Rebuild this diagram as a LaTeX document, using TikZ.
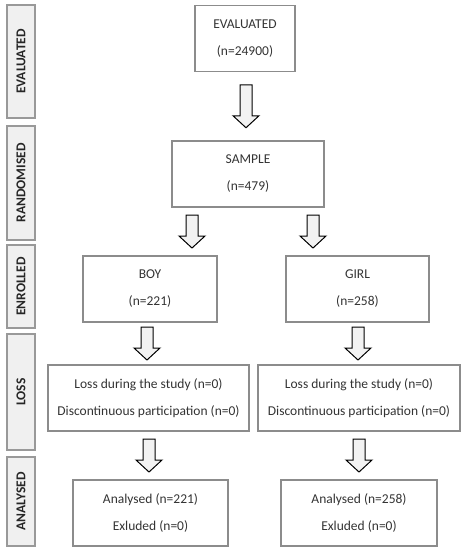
\documentclass[tikz,border=0pt]{standalone}
\usepackage{fontspec}
\setmainfont{Carlito}
\usetikzlibrary{calc}

\tikzset{
  box/.style={draw=black!45, line width=1.3pt, minimum height=66pt, align=center,
    text=black!80, font=\fontsize{13.5}{27}\selectfont, inner sep=0pt},
  sidebox/.style={draw=black!40, fill=black!6, line width=1.2pt, minimum width=28pt,
    inner sep=0pt, text=black!85, font=\fontsize{13.5}{14}\selectfont\bfseries},
  hollowarrow/.style={draw=black, fill=black!5, line width=1pt, line join=miter}
}

% #1 length, #2 x position, #3 upper box, #4 lower box
\newcommand{\blockarrow}[4][33]{%
  \draw[hollowarrow] let \p1=(#3.south), \p2=(#4.north), \n1={(\y1+\y2)/2} in
    ({(#2-6)*1pt},{\n1*1pt+#1*0.5pt}) -- ({(#2+6)*1pt},{\n1*1pt+#1*0.5pt})
    -- ({(#2+6)*1pt},{\n1*1pt-#1*0.5pt+12pt}) -- ({(#2+13)*1pt},{\n1*1pt-#1*0.5pt+12pt})
    -- ({#2*1pt},{\n1*1pt-#1*0.5pt}) -- ({(#2-13)*1pt},{\n1*1pt-#1*0.5pt+12pt})
    -- ({(#2-6)*1pt},{\n1*1pt-#1*0.5pt+12pt}) -- cycle;}

\begin{document}
\begin{tikzpicture}[x=1pt, y=-1pt]
  \useasboundingbox (0,0) rectangle (466,550);

  % stage labels
  \node[sidebox, minimum height=113pt] (sEval) at (21,61.5)  {\rotatebox{90}{EVALUATED}};
  \node[sidebox, minimum height=114pt] (sRand) at (21,183)   {\rotatebox{90}{RANDOMISED}};
  \node[sidebox, minimum height=83pt]  (sEnro) at (21,286.5) {\rotatebox{90}{ENROLLED}};
  \node[sidebox, minimum height=116pt] (sLoss) at (21,392)   {\rotatebox{90}{LOSS}};
  \node[sidebox, minimum height=89pt]  (sAnal) at (21,501.5) {\rotatebox{90}{ANALYSED}};

  % boxes
  \node[box, minimum width=100pt] (eval)   at (245,38.5)  {EVALUATED\\(n=24900)};
  \node[box, minimum width=152pt] (sample) at (248,174)   {SAMPLE\\(n=479)};
  \node[box, minimum width=134pt] (boy)    at (150,289)   {BOY\\(n=221)};
  \node[box, minimum width=143pt] (girl)   at (357.5,289) {GIRL\\(n=258)};
  \node[box, minimum width=201pt] (lossB)  at (148.5,398) {Loss during the study (n=0)\\Discontinuous participation (n=0)};
  \node[box, minimum width=202pt] (lossG)  at (359,398)   {Loss during the study (n=0)\\Discontinuous participation (n=0)};
  \node[box, minimum width=155pt] (anB)    at (150.5,513) {Analysed (n=221)\\Exluded (n=0)};
  \node[box, minimum width=156pt] (anG)    at (359,513)   {Analysed (n=258)\\Exluded (n=0)};

  % arrows
  \blockarrow[43]{246}{eval}{sample}
  \blockarrow{192}{sample}{boy}
  \blockarrow{313}{sample}{girl}
  \blockarrow{147}{boy}{lossB}
  \blockarrow{358}{girl}{lossG}
  \blockarrow{149}{lossB}{anB}
  \blockarrow{359}{lossG}{anG}
\end{tikzpicture}
\end{document}
